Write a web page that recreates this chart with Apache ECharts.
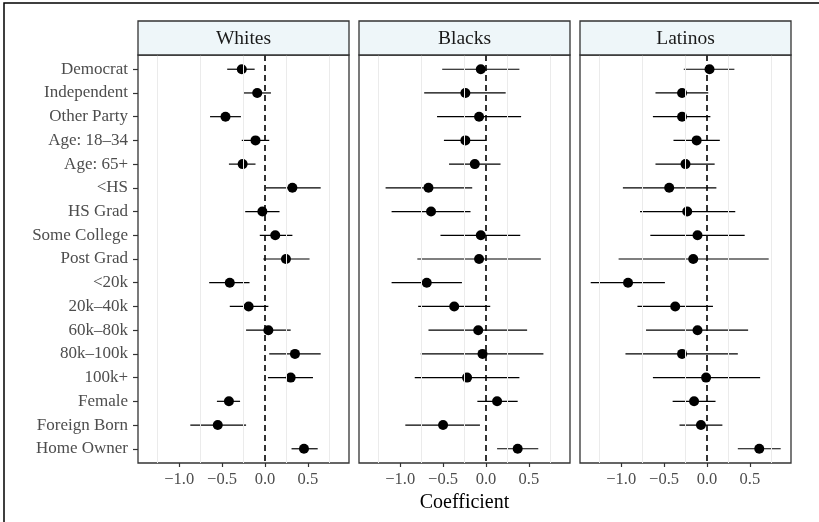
<!DOCTYPE html>
<html>
<head>
<meta charset="utf-8">
<script src="https://cdn.jsdelivr.net/npm/echarts@6/dist/echarts.min.js"></script>
<style>
  html, body { margin: 0; padding: 0; background: #fff; }
  #chart { width: 819px; height: 522px; }
</style>
</head>
<body>
<div id="chart"></div>
<script>
// coefficient plot, three facets

var categories = ['Democrat', 'Independent', 'Other Party', 'Age: 18\u201334', 'Age: 65+',
  '<HS', 'HS Grad', 'Some College', 'Post Grad', '<20k', '20k\u201340k', '60k\u201380k',
  '80k\u2013100k', '100k+', 'Female', 'Foreign Born', 'Home Owner'];
var panels = ['Whites', 'Blacks', 'Latinos'];
var xTicks = [-1.0, -0.5, 0.0, 0.5];
var xMinor = [-1.25, -0.75, -0.25, 0.25, 0.75];

var whitesEst = [-0.27, -0.09, -0.46, -0.11, -0.26, 0.32, -0.03, 0.12, 0.245, -0.41, -0.19, 0.04, 0.35, 0.30, -0.42, -0.55, 0.455];
var whitesLo  = [-0.44, -0.25, -0.64, -0.27, -0.42, 0.01, -0.23, -0.06, -0.02, -0.65, -0.41, -0.22, 0.05, 0.035, -0.56, -0.87, 0.31];
var whitesHi  = [-0.12, 0.07, -0.28, 0.05, -0.11, 0.65, 0.17, 0.32, 0.52, -0.18, 0.04, 0.30, 0.65, 0.56, -0.29, -0.22, 0.615];

var blacksEst = [-0.06, -0.24, -0.08, -0.24, -0.13, -0.67, -0.64, -0.06, -0.08, -0.69, -0.37, -0.09, -0.04, -0.22, 0.13, -0.50, 0.37];
var blacksLo  = [-0.51, -0.72, -0.57, -0.49, -0.43, -1.17, -1.10, -0.53, -0.80, -1.10, -0.79, -0.67, -0.76, -0.83, -0.10, -0.94, 0.13];
var blacksHi  = [0.39, 0.23, 0.41, 0.0, 0.17, -0.16, -0.18, 0.40, 0.64, -0.28, 0.05, 0.48, 0.67, 0.39, 0.37, -0.07, 0.61];

var latinosEst = [0.03, -0.29, -0.29, -0.12, -0.25, -0.44, -0.23, -0.11, -0.16, -0.92, -0.37, -0.11, -0.29, -0.01, -0.15, -0.07, 0.61];
var latinosLo  = [-0.27, -0.60, -0.63, -0.39, -0.60, -0.98, -0.78, -0.66, -1.03, -1.355, -0.81, -0.71, -0.95, -0.63, -0.40, -0.32, 0.36];
var latinosHi  = [0.32, 0.015, 0.04, 0.15, 0.09, 0.11, 0.33, 0.44, 0.72, -0.49, 0.07, 0.48, 0.36, 0.62, 0.10, 0.18, 0.86];

var est = [whitesEst, blacksEst, latinosEst];
var lo = [whitesLo, blacksLo, latinosLo];
var hi = [whitesHi, blacksHi, latinosHi];

var FONT = 'Liberation Serif';
var lefts = [138, 359, 580];
var panelW = 211;
var stripTop = 21, panelTop = 55, panelH = 408;

var chart = echarts.init(document.getElementById('chart'));

var grids = [], xAxes = [], yAxes = [], series = [], graphics = [];
var yIdx = categories.map(function (c, i) { return i; });

// outer frame (only top/left visible in the original)
graphics.push({
  type: 'rect', shape: { x: 4, y: 3, width: 900, height: 600 },
  style: { fill: 'none', stroke: '#000', lineWidth: 1.5 }, z: 100
});

panels.forEach(function (name, p) {
  grids.push({
    left: lefts[p], top: panelTop, width: panelW, height: panelH,
    show: true, borderColor: '#333', borderWidth: 1.3, backgroundColor: '#fff'
  });
  xAxes.push({
    gridIndex: p, type: 'value', min: -1.48, max: 0.98, position: 'bottom',
    axisLine: { show: false, onZero: false },
    splitLine: { show: false },
    axisTick: { show: true, length: 4, customValues: xTicks, lineStyle: { color: '#333', width: 1.2 } },
    axisLabel: {
      customValues: xTicks, margin: 8, color: '#4d4d4d', fontFamily: FONT, fontSize: 16.5,
      formatter: function (v) { return (v < 0 ? '\u2212' : '') + Math.abs(v).toFixed(1); }
    },
    name: p === 1 ? 'Coefficient' : '',
    nameLocation: 'middle', nameGap: 29,
    nameTextStyle: { color: '#000', fontFamily: FONT, fontSize: 20 }
  });
  yAxes.push({
    gridIndex: p, type: 'value', inverse: true, min: -0.6, max: 16.6, position: 'left',
    axisLine: { show: false, onZero: false },
    splitLine: { show: false },
    axisTick: { show: p === 0, length: 5, customValues: yIdx, lineStyle: { color: '#333', width: 1.2 } },
    axisLabel: {
      show: p === 0, customValues: yIdx, margin: 10, color: '#4d4d4d', fontFamily: FONT, fontSize: 17,
      formatter: function (v) { return categories[Math.round(v)]; }
    }
  });

  var barData = categories.map(function (c, i) { return [lo[p][i], hi[p][i], i]; });
  var ptData = categories.map(function (c, i) { return [est[p][i], i]; });

  // faint vertical grid lines
  series.push({
    type: 'scatter', xAxisIndex: p, yAxisIndex: p, data: [], silent: true, z: 1,
    markLine: {
      silent: true, symbol: 'none', label: { show: false },
      lineStyle: { color: '#ebebeb', width: 1, type: 'solid' },
      data: xMinor.map(function (v) { return { xAxis: v }; })
    }
  });
  // confidence intervals
  series.push({
    type: 'custom', xAxisIndex: p, yAxisIndex: p, data: barData, z: 2, silent: true,
    encode: { x: [0, 1], y: 2 },
    renderItem: function (params, api) {
      var a = api.coord([api.value(0), api.value(2)]);
      var b = api.coord([api.value(1), api.value(2)]);
      return { type: 'line', shape: { x1: a[0], y1: a[1], x2: b[0], y2: b[1] },
        style: { stroke: '#000', lineWidth: 1.2, opacity: 1 } };
    },
    markLine: {
      silent: true, symbol: 'none', label: { show: false },
      lineStyle: { color: '#000', width: 1.6, type: [6, 4], opacity: 1 },
      data: [{ xAxis: 0 }]
    }
  });
  // point estimates
  series.push({
    type: 'scatter', xAxisIndex: p, yAxisIndex: p, data: ptData, z: 3,
    symbol: 'circle', symbolSize: 10, itemStyle: { color: '#000', opacity: 1 }
  });

  // facet strip
  graphics.push({
    type: 'rect', shape: { x: lefts[p], y: stripTop, width: panelW, height: panelTop - stripTop },
    style: { fill: '#eef6f9', stroke: '#333', lineWidth: 1.3 }, z: 10
  });
  graphics.push({
    type: 'text', x: lefts[p] + panelW / 2, y: (stripTop + panelTop) / 2 + 1,
    style: { text: name, fill: '#1a1a1a', font: '19.5px "' + FONT + '"', align: 'center', verticalAlign: 'middle' },
    z: 11
  });
});

chart.setOption({
  animation: false,
  backgroundColor: '#fff',
  grid: grids,
  xAxis: xAxes,
  yAxis: yAxes,
  series: series,
  graphic: graphics
});
</script>
</body>
</html>
